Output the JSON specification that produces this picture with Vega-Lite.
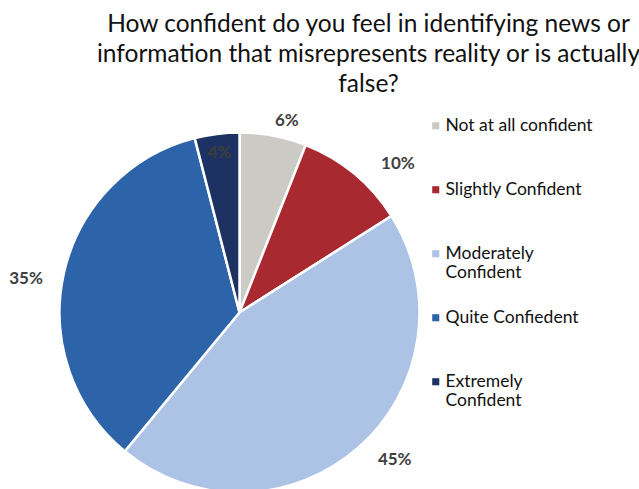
{
  "$schema": "https://vega.github.io/schema/vega-lite/v6.json",
  "autosize": "none",
  "width": 479,
  "height": 359,
  "padding": {"top": 133, "left": 0, "right": 160, "bottom": 0},
  "background": "white",
  "title": {
    "text": ["How confident do you feel in identifying news or", "information that misrepresents reality or is actually", "false?"],
    "anchor": "middle",
    "dx": 129,
    "offset": -11,
    "font": "Lato",
    "fontSize": 24.5,
    "fontWeight": "normal",
    "color": "#111111",
    "lineHeight": 30
  },
  "data": {
    "values": [
      {"category": "Not at all confident", "rank": 1, "pct": 6, "label": "6%"},
      {"category": "Slightly Confident", "rank": 2, "pct": 10, "label": "10%"},
      {"category": "Moderately Confident", "rank": 3, "pct": 45, "label": "45%"},
      {"category": "Quite Confiedent", "rank": 4, "pct": 35, "label": "35%"},
      {"category": "Extremely Confident", "rank": 5, "pct": 4, "label": "4%"}
    ]
  },
  "encoding": {
    "theta": {"field": "pct", "type": "quantitative", "stack": true},
    "order": {"field": "rank", "type": "quantitative"}
  },
  "layer": [
    {
      "mark": {"type": "arc", "outerRadius": 180, "stroke": "white", "strokeWidth": 2.5},
      "encoding": {
        "color": {
          "field": "category",
          "type": "nominal",
          "scale": {
            "domain": ["Not at all confident", "Slightly Confident", "Moderately Confident", "Quite Confiedent", "Extremely Confident"],
            "range": ["#CBCAC5", "#A8292F", "#ADC3E6", "#2D64A9", "#1E3163"]
          },
          "legend": {
            "title": null,
            "orient": "none",
            "legendX": 427,
            "legendY": -16,
            "symbolType": "square",
            "symbolSize": 50,
            "symbolStrokeWidth": 0,
            "labelFont": "Lato",
            "labelFontSize": 17.5,
            "labelColor": "#111111",
            "labelOffset": 1,
            "labelLimit": 300,
            "rowPadding": 26,
            "gridAlign": "all",
            "labelExpr": "datum.label == 'Moderately Confident' ? ['Moderately', 'Confident'] : datum.label == 'Extremely Confident' ? ['Extremely', 'Confident'] : datum.label"
          }
        }
      }
    },
    {
      "mark": {"type": "text", "radius": 197, "thetaOffset": 0.054, "font": "Lato", "fontWeight": "bold", "fontSize": 17, "color": "#404040"},
      "encoding": {"text": {"condition": {"test": "datum.rank == 1", "field": "label"}, "value": ""}}
    },
    {
      "mark": {"type": "text", "radius": 217, "thetaOffset": 0.127, "font": "Lato", "fontWeight": "bold", "fontSize": 17, "color": "#404040"},
      "encoding": {"text": {"condition": {"test": "datum.rank == 2", "field": "label"}, "value": ""}}
    },
    {
      "mark": {"type": "text", "radius": 214, "thetaOffset": -0.089, "font": "Lato", "fontWeight": "bold", "fontSize": 17, "color": "#404040"},
      "encoding": {"text": {"condition": {"test": "datum.rank == 3", "field": "label"}, "value": ""}}
    },
    {
      "mark": {"type": "text", "radius": 216, "thetaOffset": -0.065, "font": "Lato", "fontWeight": "bold", "fontSize": 17, "color": "#404040"},
      "encoding": {"text": {"condition": {"test": "datum.rank == 4", "field": "label"}, "value": ""}}
    },
    {
      "mark": {"type": "text", "radius": 161, "font": "Lato", "fontWeight": "bold", "fontSize": 17, "color": "#3E3E38"},
      "encoding": {"text": {"condition": {"test": "datum.rank == 5", "field": "label"}, "value": ""}}
    }
  ]
}
